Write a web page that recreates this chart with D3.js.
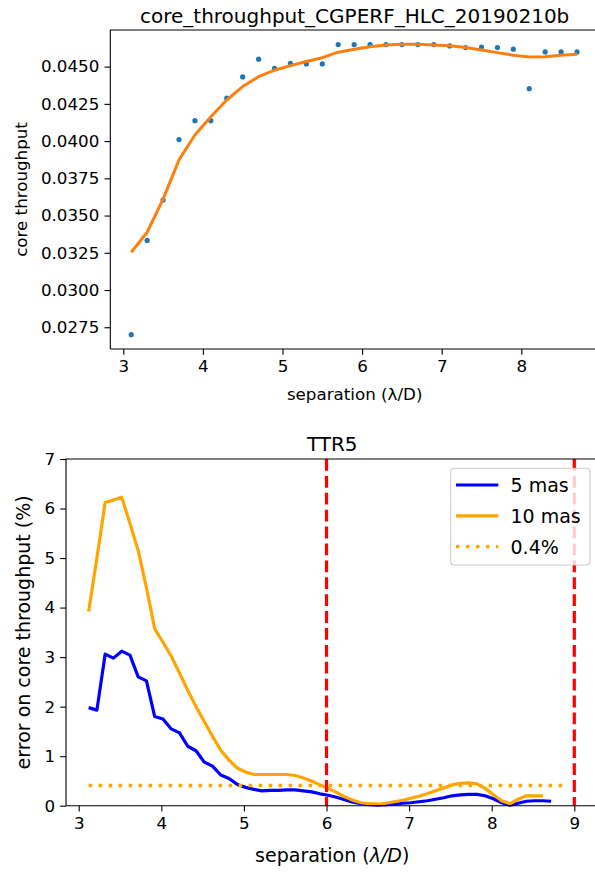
<!DOCTYPE html>
<html><head><meta charset="utf-8">
<script src="https://cdn.jsdelivr.net/npm/d3@7"></script>
<style>body{margin:0;background:#fff}svg{display:block;font-family:"DejaVu Sans",sans-serif}</style>
</head><body><svg id="c" width="595" height="874"></svg>
<script>
// ---- top chart data ----
const topTitle = "core_throughput_CGPERF_HLC_20190210b";
const sepTop = [3.1,3.3,3.5,3.7,3.9,4.1,4.3,4.5,4.7,4.9,5.1,5.3,5.5,5.7,5.9,6.1,6.3,6.5,6.7,6.9,7.1,7.3,7.5,7.7,7.9,8.1,8.3,8.5,8.7];
const coreMeasured = [0.0270,0.03333,0.03605,0.0401,0.04137,0.04137,0.04288,0.04431,0.0455,0.04489,0.04522,0.04518,0.04518,0.04648,0.04648,0.04648,0.04648,0.04648,0.04648,0.04648,0.04639,0.04628,0.04632,0.04628,0.04617,0.04352,0.04599,0.04599,0.04599];
const coreFit = [0.03254,0.03388,0.0361,0.03874,0.04041,0.04164,0.04276,0.04366,0.04433,0.04476,0.04507,0.04534,0.0456,0.04597,0.04617,0.04634,0.04646,0.0465,0.0465,0.04646,0.0464,0.04628,0.04612,0.04594,0.04577,0.04565,0.04567,0.04577,0.04583];
const topYTicks = [0.0275,0.0300,0.0325,0.0350,0.0375,0.0400,0.0425,0.0450];
const topXTicks = [3,4,5,6,7,8];

// ---- bottom chart data ----
const botTitle = "TTR5";
const sep5 = [3.12,3.22,3.32,3.42,3.52,3.62,3.72,3.82,3.92,4.02,4.12,4.22,4.32,4.42,4.52,4.62,4.72,4.82,4.92,5.02,5.12,5.22,5.32,5.42,5.52,5.62,5.72,5.82,5.92,6.02,6.12,6.22,6.32,6.42,6.52,6.62,6.72,6.82,6.92,7.02,7.12,7.22,7.32,7.42,7.52,7.62,7.72,7.82,7.92,8.02,8.12,8.22,8.32,8.42,8.52,8.62,8.72];
const err5 = [1.98,1.93,3.06,2.98,3.12,3.04,2.60,2.52,1.80,1.75,1.55,1.47,1.20,1.11,0.88,0.80,0.62,0.55,0.43,0.37,0.33,0.30,0.31,0.31,0.32,0.32,0.30,0.28,0.24,0.21,0.17,0.12,0.07,0.04,0.02,0.01,0.02,0.03,0.05,0.06,0.08,0.10,0.13,0.16,0.20,0.22,0.23,0.23,0.20,0.14,0.06,0.01,0.05,0.09,0.10,0.10,0.09];
const sep10 = [3.12,3.22,3.32,3.42,3.52,3.62,3.72,3.82,3.92,4.02,4.12,4.22,4.32,4.42,4.52,4.62,4.72,4.82,4.92,5.02,5.12,5.22,5.32,5.42,5.52,5.62,5.72,5.82,5.92,6.02,6.12,6.22,6.32,6.42,6.52,6.62,6.72,6.82,6.92,7.02,7.12,7.22,7.32,7.42,7.52,7.62,7.72,7.82,7.92,8.02,8.12,8.22,8.32,8.42,8.52,8.62];
const err10 = [3.92,5.0,6.12,6.17,6.23,5.7,5.15,4.4,3.57,3.30,3.02,2.68,2.33,2.0,1.70,1.40,1.12,0.92,0.76,0.68,0.63,0.63,0.63,0.63,0.63,0.61,0.56,0.50,0.42,0.35,0.27,0.18,0.11,0.06,0.04,0.03,0.05,0.08,0.11,0.15,0.19,0.24,0.30,0.36,0.42,0.45,0.46,0.44,0.35,0.22,0.10,0.04,0.13,0.20,0.20,0.20];
const reqLevel = 0.41;
const reqRange = [3.12, 8.93];
const vLines = [6, 9];
const legendLabels = ["5 mas","10 mas","0.4%"];
const botXTicks = [3,4,5,6,7,8,9];
const botYTicks = [0,1,2,3,4,5,6,7];

const svg = d3.select("#c");
const FONT_TICK = 16.7;

function spines(g, x0, x1, y0, y1){
  g.append("path").attr("d",`M${x0},${y0}V${y1}H${x1}M${x0},${y0}H${x1}`)
    .attr("fill","none").attr("stroke","#000").attr("stroke-width",1.1);
}
function styleAxis(a, fs){
  a.select(".domain").remove();
  a.selectAll(".tick line").attr("stroke","#000").attr("stroke-width",1.1);
  a.selectAll(".tick text").attr("fill","#000").attr("font-size",fs).attr("font-family","DejaVu Sans");
}

// ================= TOP =================
{
  const L=110.3, R=599, T=30, B=349;
  const x = d3.scaleLinear().domain([2.837,8.976]).range([L,R]);
  const y = d3.scaleLinear().domain([0.02604,0.04746]).range([B,T]);
  const g = svg.append("g");
  const ax = g.append("g").attr("transform",`translate(0,${B})`)
    .call(d3.axisBottom(x).tickValues(topXTicks).tickSize(5.8).tickPadding(5.2).tickFormat(d3.format("d")));
  styleAxis(ax, FONT_TICK);
  const ay = g.append("g").attr("transform",`translate(${L},0)`)
    .call(d3.axisLeft(y).tickValues(topYTicks).tickSize(5.8).tickPadding(5.2).tickFormat(d3.format(".4f")));
  styleAxis(ay, FONT_TICK);
  g.selectAll("circle").data(sepTop).join("circle")
    .attr("cx",(d)=>x(d)).attr("cy",(d,i)=>y(coreMeasured[i])).attr("r",2.6).attr("fill","#1f77b4");
  g.append("path").datum(sepTop.map((d,i)=>[d,coreFit[i]]))
    .attr("d",d3.line().x(d=>x(d[0])).y(d=>y(d[1])))
    .attr("fill","none").attr("stroke","#ff7f0e").attr("stroke-width",3).attr("stroke-linejoin","round").attr("stroke-linecap","butt");
  spines(g, L, R+2, B, T);
  g.append("text").attr("x",(L+R)/2).attr("y",23).attr("text-anchor","middle").attr("font-size",20).text(topTitle);
  g.append("text").attr("x",(L+R)/2).attr("y",400).attr("text-anchor","middle").attr("font-size",FONT_TICK).text("separation (λ/D)");
  g.append("text").attr("transform",`translate(27,${(T+B)/2}) rotate(-90)`).attr("text-anchor","middle").attr("font-size",FONT_TICK).text("core throughput");
}

// ================= BOTTOM =================
{
  const L=66, R=598.5, T=459, B=805.7;
  const x = d3.scaleLinear().domain([2.846,9.293]).range([L,R]);
  const y = d3.scaleLinear().domain([0,7]).range([B,T]);
  const g = svg.append("g");
  const ax = g.append("g").attr("transform",`translate(0,${B})`)
    .call(d3.axisBottom(x).tickValues(botXTicks).tickSize(5.8).tickPadding(5.2).tickFormat(d3.format("d")));
  styleAxis(ax, FONT_TICK);
  const ay = g.append("g").attr("transform",`translate(${L},0)`)
    .call(d3.axisLeft(y).tickValues(botYTicks).tickSize(5.8).tickPadding(5.2).tickFormat(d3.format("d")));
  styleAxis(ay, FONT_TICK);
  const line = d3.line().x(d=>x(d[0])).y(d=>y(d[1]));
  g.append("path").datum(sep5.map((d,i)=>[d,err5[i]])).attr("d",line)
    .attr("fill","none").attr("stroke","#0000ff").attr("stroke-width",3.2).attr("stroke-linejoin","round");
  g.append("path").datum(sep10.map((d,i)=>[d,err10[i]])).attr("d",line)
    .attr("fill","none").attr("stroke","#ffa500").attr("stroke-width",3.2).attr("stroke-linejoin","round");
  g.append("path").datum(reqRange.map(d=>[d,reqLevel])).attr("d",line)
    .attr("fill","none").attr("stroke","#ffa500").attr("stroke-width",3.5).attr("stroke-dasharray","3.5,6.5");
  g.selectAll("line.v").data(vLines).join("line").attr("class","v")
    .attr("x1",d=>x(d)).attr("x2",d=>x(d)).attr("y1",T).attr("y2",B)
    .attr("stroke","#ff0000").attr("stroke-width",3.2).attr("stroke-dasharray","11.8,5.1");
  spines(g, L, R+2, B, T);
  g.append("text").attr("x",(L+R)/2).attr("y",451).attr("text-anchor","middle").attr("font-size",20).text(botTitle);
  const xl = g.append("text").attr("x",(L+R)/2).attr("y",862).attr("text-anchor","middle").attr("font-size",19);
  xl.append("tspan").text("separation (");
  xl.append("tspan").attr("font-style","italic").text("λ/D");
  xl.append("tspan").text(")");
  g.append("text").attr("transform",`translate(29.5,${(T+B)/2}) rotate(-90)`).attr("text-anchor","middle").attr("font-size",19).text("error on core throughput (%)");

  // legend
  const lg = g.append("g");
  lg.append("rect").attr("x",450.7).attr("y",468.3).attr("width",139.3).attr("height",96.7).attr("rx",3.5)
    .attr("fill","#fff").attr("fill-opacity",0.8).attr("stroke","#cccccc").attr("stroke-width",1.1);
  const styles = [{c:"#0000ff",dash:null},{c:"#ffa500",dash:null},{c:"#ffa500",dash:"3.5,6.5"}];
  const rows = lg.selectAll("g.row").data(legendLabels).join("g").attr("class","row")
    .attr("transform",(d,i)=>`translate(0,${485+i*30.8})`);
  rows.append("line").attr("x1",456).attr("x2",498.3).attr("y1",0).attr("y2",0)
    .attr("stroke",(d,i)=>styles[i].c).attr("stroke-width",3.2).attr("stroke-dasharray",(d,i)=>styles[i].dash);
  rows.append("text").attr("x",510.5).attr("y",7).attr("font-size",19).attr("fill","#000").text(d=>d);
}
</script></body></html>
